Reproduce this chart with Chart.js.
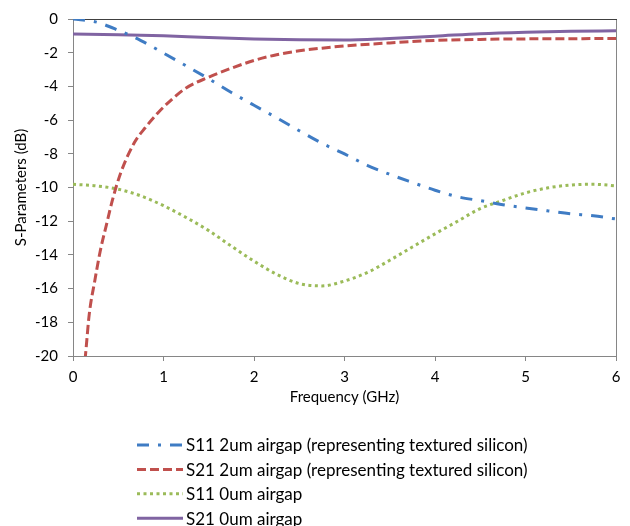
<!DOCTYPE html>
<html>
<head>
<meta charset="utf-8">
<script src="https://cdn.jsdelivr.net/npm/chart.js@4"></script>
<style>
  body { margin: 0; background: #fff; }
  #wrap { width: 630px; height: 526px; }
</style>
</head>
<body>
<div id="wrap"><canvas id="myChart" width="630" height="526"></canvas></div>
<script>
// frequencies (GHz) and S-parameter values (dB)
var freqS11_2um = [0, 0.25, 0.5, 0.75, 1, 1.25, 1.5, 1.75, 2, 2.25, 2.5, 2.75, 3, 3.25, 3.5, 3.75, 4, 4.25, 4.5, 4.75, 5, 5.25, 5.5, 5.75, 6];
var s11_2um = [0, -0.17, -0.67, -1.28, -2.02, -2.78, -3.55, -4.36, -5.12, -5.86, -6.63, -7.37, -8.01, -8.68, -9.22, -9.7, -10.16, -10.55, -10.78, -11.02, -11.21, -11.39, -11.56, -11.68, -11.87];

var freqS21_2um = [0.12, 0.14, 0.18, 0.24, 0.3, 0.37, 0.44, 0.53, 0.68, 0.8, 0.94, 1.09, 1.25, 1.5, 1.75, 2, 2.25, 2.5, 2.75, 3, 3.5, 4, 4.5, 5, 5.5, 6];
var s21_2um = [-21.0, -19.83, -17.5, -15.56, -13.8, -12.2, -10.66, -9.09, -7.32, -6.44, -5.56, -4.78, -4.09, -3.45, -2.92, -2.46, -2.12, -1.89, -1.73, -1.6, -1.42, -1.27, -1.21, -1.18, -1.17, -1.15];

var freqS11_0um = [0, 0.25, 0.5, 0.75, 1, 1.25, 1.5, 1.75, 2, 2.25, 2.5, 2.75, 3, 3.25, 3.5, 3.75, 4, 4.25, 4.5, 4.75, 5, 5.25, 5.5, 5.75, 6];
var s11_0um = [-9.81, -9.9, -10.1, -10.5, -11.08, -11.78, -12.56, -13.48, -14.37, -15.15, -15.7, -15.84, -15.55, -15.05, -14.32, -13.53, -12.75, -12.0, -11.25, -10.77, -10.32, -10.02, -9.85, -9.81, -9.9];

var freqS21_0um = [0, 0.5, 1, 1.5, 2, 2.5, 3, 3.5, 4, 4.5, 5, 5.5, 6];
var s21_0um = [-0.89, -0.93, -1.0, -1.1, -1.18, -1.23, -1.25, -1.15, -1.02, -0.87, -0.78, -0.72, -0.7];

var seriesLabels = [
  'S11 2um airgap (representing textured silicon)',
  'S21 2um airgap (representing textured silicon)',
  'S11 0um airgap',
  'S21 0um airgap'
];

function pts(xs, ys) {
  return xs.map(function (x, i) { return { x: x, y: ys[i] }; });
}

var FONT = 'Lato, "Open Sans", sans-serif';

// plot frame + legend drawn by hand, Excel style
var frameAndLegend = {
  id: 'frameAndLegend',
  beforeDatasetsDraw: function (chart) {
    var ctx = chart.ctx, a = chart.chartArea;
    ctx.save();
    ctx.lineWidth = 1;
    ctx.strokeStyle = '#868686';
    ctx.beginPath();
    ctx.moveTo(a.right + 0.5, a.top);
    ctx.lineTo(a.right + 0.5, a.bottom);
    ctx.stroke();
    ctx.strokeStyle = '#404040';
    ctx.beginPath();
    ctx.moveTo(a.left, a.top + 0.5);
    ctx.lineTo(a.right + 1, a.top + 0.5);
    ctx.stroke();
    ctx.restore();
  },
  afterDraw: function (chart) {
    var ctx = chart.ctx;
    ctx.save();
    chart.data.datasets.forEach(function (ds, i) {
      var y = 445 + i * 24.4;
      ctx.strokeStyle = ds.borderColor;
      ctx.lineWidth = ds.borderWidth;
      ctx.lineCap = ds.borderCapStyle || 'butt';
      ctx.setLineDash(ds.borderDash || []);
      ctx.beginPath();
      ctx.moveTo(137, y);
      ctx.lineTo(183, y);
      ctx.stroke();
      ctx.setLineDash([]);
      ctx.fillStyle = '#000';
      ctx.font = '17px ' + FONT;
      ctx.textBaseline = 'middle';
      ctx.textAlign = 'left';
      ctx.fillText(ds.label, 186, y + 1);
    });
    ctx.restore();
  }
};

var ctx = document.getElementById('myChart');

var myChart = new Chart(ctx, {
  type: 'scatter',
  data: {
    datasets: [{
      label: seriesLabels[0],
      data: pts(freqS11_2um, s11_2um),
      borderColor: '#3F7CC4',
      borderWidth: 3,
      borderDash: [12, 9, 3, 9]
    }, {
      label: seriesLabels[1],
      data: pts(freqS21_2um, s21_2um),
      borderColor: '#C0504D',
      borderWidth: 3,
      borderDash: [9, 4]
    }, {
      label: seriesLabels[2],
      data: pts(freqS11_0um, s11_0um),
      borderColor: '#9BBB59',
      borderWidth: 3,
      borderDash: [3, 3.5]
    }, {
      label: seriesLabels[3],
      data: pts(freqS21_0um, s21_0um),
      borderColor: '#8064A2',
      borderWidth: 3
    }]
  },
  options: {
    responsive: false,
    animation: false,
    showLine: true,
    layout: { padding: { left: 8, top: 16, right: 14, bottom: 118 } },
    elements: {
      point: { radius: 0, hoverRadius: 0 },
      line: { cubicInterpolationMode: 'monotone', fill: false }
    },
    datasets: { scatter: { clip: 0 } },
    plugins: {
      legend: { display: false },
      tooltip: { enabled: false }
    },
    scales: {
      x: {
        type: 'linear',
        min: 0,
        max: 6,
        ticks: { stepSize: 1, color: '#000', font: { family: FONT, size: 15 }, padding: 7 },
        grid: { drawOnChartArea: false, color: '#868686', tickLength: 5 },
        border: { color: '#868686' },
        title: { display: true, text: 'Frequency (GHz)', color: '#000', font: { family: FONT, size: 15 }, padding: { top: 0, bottom: 2 } },
        afterFit: function (s) { s.height = 52; }
      },
      y: {
        min: -20,
        max: 0,
        ticks: { stepSize: 2, color: '#000', font: { family: FONT, size: 15 }, padding: 10 },
        grid: { drawOnChartArea: false, color: '#868686', tickLength: 5 },
        border: { color: '#868686' },
        title: { display: true, text: 'S-Parameters (dB)', color: '#000', font: { family: FONT, size: 15 }, padding: 4 },
        afterFit: function (s) { s.width = 65; }
      }
    }
  },
  plugins: [frameAndLegend]
});
</script>
</body>
</html>
